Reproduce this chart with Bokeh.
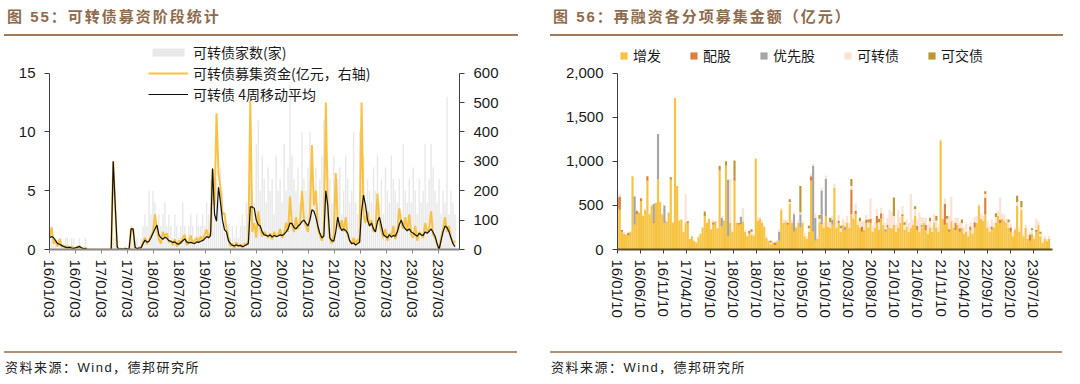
from datetime import datetime
import pandas as pd
from bokeh.plotting import figure
from bokeh.models import (Range1d, LinearAxis, FixedTicker, Legend, LegendItem, Div,
                          NumeralTickFormatter, DatetimeTickFormatter, ColumnDataSource)
from bokeh.layouts import row, column
from bokeh.embed import file_html
from bokeh.resources import INLINE

# ---------------- Left chart data (bi-weekly from 2016-01-03) ----------------
left_start = "2016-01-03"
left_tick_labels = ["16/01/03", "16/07/03", "17/01/03", "17/07/03", "18/01/03", "18/07/03",
                    "19/01/03", "19/07/03", "20/01/03", "20/07/03", "21/01/03", "21/07/03",
                    "22/01/03", "22/07/03", "23/01/03", "23/07/03"]
cb_count = [1, 2, 1, 1, 0, 1, 1, 0, 1, 1,
            0, 1, 1, 0, 0, 1, 0, 0, 1, 0,
            0, 0, 0, 0, 0, 0, 0, 0, 0, 0,
            0, 0, 1, 1, 0, 0, 0, 0, 0, 0,
            0, 2, 1, 0, 1, 0, 1, 2, 3, 2,
            5, 3, 5, 4, 2, 3, 2, 3, 4, 2,
            3, 2, 1, 3, 2, 1, 2, 4, 2, 1,
            2, 3, 2, 1, 3, 2, 2, 3, 2, 4,
            3, 6, 7, 5, 6, 4, 7, 5, 3, 2,
            2, 1, 2, 1, 2, 1, 2, 3, 2, 4,
            3, 6, 5, 4, 9, 11, 5, 8, 6, 4,
            7, 5, 6, 3, 8, 5, 6, 4, 9, 5,
            7, 14, 8, 6, 5, 7, 4, 10, 6, 5,
            7, 10, 6, 5, 7, 4, 6, 8, 11, 5,
            7, 6, 4, 8, 5, 6, 7, 3, 5, 8,
            6, 4, 5, 10, 4, 3, 10, 5, 8, 4,
            6, 5, 4, 7, 5, 8, 4, 6, 3, 7,
            5, 4, 8, 6, 5, 4, 6, 3, 9, 5,
            4, 6, 4, 7, 5, 3, 6, 4, 5, 9,
            4, 6, 9, 7, 5, 4, 6, 3, 5, 4,
            13, 3, 5, 4, 3]
cb_funds = [40, 75, 20, 30, 10, 36, 8, 15, 5, 12,
            0, 10, 5, 0, 8, 12, 4, 0, 6, 0,
            0, 0, 0, 0, 0, 0, 0, 0, 0, 0,
            0, 0, 300, 150, 0, 0, 3, 0, 5, 0,
            2, 72, 70, 5, 0, 8, 3, 25, 40, 18,
            30, 45, 60, 120, 70, 35, 20, 60, 45, 55,
            25, 30, 15, 35, 10, 30, 20, 40, 50, 15,
            25, 48, 20, 30, 40, 25, 45, 30, 50, 68,
            40, 60, 272, 150, 464, 260, 208, 120, 124, 70,
            40, 10, 20, 5, 24, 10, 18, 6, 20, 15,
            30, 508, 60, 90, 40, 130, 70, 45, 60, 50,
            40, 55, 35, 60, 45, 50, 70, 40, 55, 90,
            60, 180, 80, 60, 110, 70, 90, 200, 100, 80,
            60, 120, 355, 150, 200, 70, 50, 30, 60, 500,
            130, 40, 20, 50, 260, 90, 70, 100, 60, 110,
            50, 30, 20, 40, 15, 35, 25, 500, 120, 90,
            130, 80, 100, 60, 70, 190, 90, 60, 40, 70,
            30, 55, 45, 80, 35, 60, 140, 90, 70, 110,
            60, 120, 50, 40, 80, 30, 60, 50, 40, 90,
            60, 70, 130, 50, 40, 20, 0, 40, 70, 110,
            60, 80, 40, 20, 30]
cb_ma4 = [40, 44, 40, 30, 20, 18, 14, 10, 8, 6,
          8, 5, 4, 6, 8, 10, 6, 4, 3, 0,
          0, 0, 0, 0, 0, 0, 0, 0, 0, 0,
          0, 0, 300, 152, 10, 0, 2, 1, 3, 2,
          1, 70, 70, 8, 3, 5, 6, 20, 32, 25,
          28, 40, 55, 70, 83, 50, 40, 35, 42, 38,
          30, 28, 24, 26, 20, 18, 24, 30, 36, 26,
          22, 24, 22, 20, 26, 24, 28, 30, 36, 44,
          40, 48, 276, 120, 96, 212, 160, 100, 68, 60,
          30, 20, 14, 12, 16, 12, 14, 10, 12, 16,
          20, 145, 145, 140, 100, 84, 80, 60, 50, 48,
          45, 50, 42, 48, 44, 46, 50, 48, 52, 60,
          70, 90, 88, 75, 70, 80, 85, 95, 100, 90,
          80, 100, 135, 130, 110, 80, 55, 40, 45, 200,
          150, 40, 30, 28, 60, 110, 80, 65, 70, 65,
          55, 30, 20, 22, 15, 20, 25, 130, 185, 150,
          100, 80, 90, 70, 60, 95, 110, 80, 50, 45,
          40, 50, 42, 48, 45, 60, 85, 100, 80, 70,
          65, 70, 60, 55, 50, 45, 55, 50, 48, 60,
          55, 62, 70, 58, 45, 20, 0, 30, 60, 80,
          75, 60, 40, 20, 10]

# ---------------- Right chart data (bi-weekly from 2016-01-10) ----------------
right_start = "2016-01-10"
right_tick_labels = ["16/01/10", "16/06/10", "16/11/10", "17/04/10", "17/09/10", "18/02/10",
                     "18/07/10", "18/12/10", "19/05/10", "19/10/10", "20/03/10", "20/08/10",
                     "21/01/10", "21/06/10", "21/11/10", "22/04/10", "22/09/10", "23/02/10",
                     "23/07/10"]
zengfa = [470, 450, 200, 180, 170, 160, 200, 830, 280, 400,
          420, 550, 380, 450, 780, 400, 500, 300, 530, 800,
          540, 400, 300, 320, 420, 790, 300, 1720, 720, 330,
          340, 200, 310, 300, 120, 150, 100, 80, 140, 180,
          250, 380, 300, 350, 230, 280, 320, 240, 900, 260,
          330, 950, 150, 300, 200, 780, 300, 280, 290, 320,
          200, 150, 180, 170, 160, 1030, 330, 350, 300, 260,
          130, 100, 60, 80, 50, 90, 100, 450, 300, 320,
          280, 520, 300, 200, 250, 300, 250, 300, 150, 120,
          200, 780, 200, 100, 120, 310, 290, 250, 380, 260,
          250, 280, 700, 250, 300, 200, 280, 220, 300, 250,
          400, 350, 400, 280, 250, 200, 220, 300, 250, 300,
          200, 250, 300, 220, 350, 280, 200, 250, 250, 240,
          280, 200, 250, 300, 380, 220, 260, 200, 250, 280,
          380, 220, 200, 260, 300, 220, 180, 250, 200, 300,
          250, 200, 1230, 350, 280, 300, 200, 320, 250, 220,
          280, 200, 250, 180, 200, 150, 220, 180, 250, 300,
          500, 350, 330, 400, 250, 200, 230, 250, 300, 380,
          300, 350, 330, 300, 250, 200, 150, 220, 500, 200,
          450, 150, 250, 120, 100, 180, 120, 200, 280, 150,
          80, 120, 100, 120]
peigu = [120, 150, 20, 0, 0, 30, 0, 0, 0, 40,
         0, 30, 0, 0, 50, 0, 0, 20, 0, 0,
         0, 0, 0, 0, 0, 0, 0, 0, 0, 0,
         0, 0, 0, 20, 0, 0, 0, 0, 0, 0,
         0, 0, 0, 0, 0, 30, 0, 0, 0, 0,
         0, 0, 0, 0, 0, 50, 0, 20, 0, 0,
         0, 0, 30, 0, 0, 0, 0, 0, 0, 0,
         0, 0, 0, 0, 30, 0, 0, 0, 0, 0,
         20, 0, 0, 0, 0, 0, 0, 0, 0, 0,
         0, 50, 0, 0, 0, 0, 20, 0, 0, 0,
         0, 0, 0, 0, 30, 0, 0, 0, 0, 0,
         280, 0, 40, 0, 0, 60, 0, 40, 0, 50,
         0, 0, 80, 0, 60, 0, 0, 30, 0, 0,
         0, 0, 0, 0, 20, 0, 0, 0, 0, 0,
         0, 50, 0, 0, 0, 60, 0, 0, 0, 0,
         0, 0, 0, 0, 240, 0, 30, 0, 0, 80,
         0, 40, 0, 0, 0, 0, 40, 0, 60, 0,
         0, 0, 0, 190, 0, 0, 30, 0, 0, 0,
         40, 0, 0, 0, 0, 50, 0, 0, 0, 0,
         0, 0, 0, 0, 70, 0, 0, 20, 0, 0,
         0, 0, 0, 0]
youxian = [0, 0, 0, 0, 0, 0, 0, 0, 320, 0,
           0, 0, 0, 0, 0, 0, 0, 200, 0, 510,
           0, 0, 200, 0, 0, 0, 0, 0, 0, 0,
           0, 0, 0, 0, 0, 0, 0, 0, 0, 0,
           0, 0, 0, 0, 0, 0, 0, 0, 0, 100,
           0, 0, 640, 0, 0, 0, 0, 0, 80, 0,
           0, 0, 0, 0, 0, 0, 0, 0, 0, 0,
           0, 0, 0, 0, 0, 0, 100, 0, 0, 0,
           0, 0, 0, 200, 0, 0, 150, 0, 0, 0,
           0, 0, 750, 260, 0, 0, 360, 0, 420, 0,
           0, 60, 0, 0, 0, 0, 0, 40, 0, 0,
           0, 0, 0, 0, 0, 0, 0, 0, 0, 0,
           0, 0, 0, 0, 0, 0, 30, 0, 0, 0,
           0, 0, 0, 0, 0, 0, 0, 0, 0, 0,
           0, 0, 0, 20, 0, 0, 0, 0, 0, 0,
           0, 0, 0, 0, 0, 0, 0, 0, 0, 0,
           0, 0, 0, 0, 0, 0, 0, 0, 0, 0,
           0, 0, 0, 0, 0, 0, 0, 0, 0, 0,
           0, 0, 0, 0, 0, 0, 0, 0, 0, 0,
           0, 0, 0, 0, 0, 0, 0, 0, 0, 0,
           0, 0, 0, 0]
kezhuan = [80, 30, 0, 20, 0, 10, 0, 0, 0, 10,
           0, 0, 10, 0, 0, 20, 0, 0, 0, 0,
           0, 10, 0, 0, 0, 0, 20, 0, 0, 10,
           0, 0, 320, 0, 0, 10, 0, 0, 20, 0,
           10, 0, 20, 0, 0, 30, 0, 10, 0, 20,
           0, 0, 0, 500, 30, 0, 20, 0, 10, 150,
           20, 0, 10, 30, 20, 10, 40, 20, 30, 10,
           20, 10, 20, 10, 0, 20, 30, 20, 40, 20,
           30, 20, 40, 30, 20, 40, 20, 30, 40, 30,
           40, 30, 20, 50, 30, 40, 30, 60, 40, 50,
           60, 40, 50, 80, 60, 40, 70, 60, 80, 50,
           40, 60, 80, 50, 70, 60, 100, 50, 60, 230,
           70, 60, 80, 90, 60, 120, 70, 80, 200, 180,
           100, 80, 200, 70, 90, 60, 80, 100, 380, 60,
           80, 70, 220, 90, 60, 80, 100, 70, 60, 100,
           80, 60, 20, 90, 60, 50, 150, 280, 70, 60,
           80, 60, 50, 70, 90, 60, 50, 80, 60, 80,
           20, 60, 50, 40, 70, 60, 80, 50, 70, 60,
           250, 60, 70, 50, 60, 40, 50, 30, 40, 50,
           30, 40, 30, 50, 30, 40, 30, 130, 40, 30,
           20, 30, 20, 30]
kejiao = [0, 0, 0, 0, 0, 0, 0, 0, 0, 0,
          0, 0, 0, 0, 0, 0, 0, 0, 0, 0,
          0, 0, 0, 0, 0, 30, 0, 0, 0, 0,
          0, 0, 0, 0, 0, 0, 0, 0, 0, 0,
          0, 50, 0, 0, 0, 0, 0, 0, 50, 0,
          0, 50, 0, 0, 0, 180, 0, 0, 0, 0,
          0, 0, 0, 30, 0, 0, 0, 0, 0, 0,
          0, 0, 20, 0, 0, 0, 0, 0, 0, 0,
          0, 30, 0, 0, 0, 0, 300, 0, 0, 0,
          30, 0, 0, 0, 0, 40, 0, 0, 0, 0,
          50, 0, 0, 0, 0, 30, 0, 0, 0, 0,
          80, 0, 0, 0, 40, 0, 0, 0, 30, 0,
          0, 0, 0, 40, 0, 0, 0, 0, 0, 0,
          210, 0, 0, 0, 0, 30, 0, 0, 0, 0,
          30, 0, 0, 0, 0, 0, 0, 40, 0, 0,
          50, 0, 0, 0, 0, 30, 0, 0, 0, 0,
          0, 0, 40, 0, 0, 0, 0, 0, 0, 0,
          0, 0, 0, 30, 0, 0, 0, 0, 40, 0,
          0, 0, 0, 0, 30, 0, 0, 0, 70, 0,
          70, 0, 0, 0, 0, 20, 0, 0, 0, 20,
          0, 0, 0, 0]
series_names = ["增发", "配股", "优先股", "可转债", "可交债"]
series_colors = ["#F6C343", "#E07F3C", "#A5A5A5", "#FBE3D4", "#BC9832"]

DAY = 86400000.0
EPOCH = datetime(1970, 1, 1)

# frame: top at y=40 px, value-axis top (15 / 600 / 2000) at y=72.7, bottom at y=249
FRAME_H = 209.0
AXIS_H = 176.3
EXT = FRAME_H / AXIS_H


def to_ms(s, fmt):
    return (datetime.strptime(s, fmt) - EPOCH).total_seconds() * 1000.0


DATE_FMT = DatetimeTickFormatter(microseconds="%y/%m/%d", milliseconds="%y/%m/%d",
                                 seconds="%y/%m/%d", minsec="%y/%m/%d", minutes="%y/%m/%d",
                                 hourmin="%y/%m/%d", hours="%y/%m/%d", days="%y/%m/%d",
                                 months="%y/%m/%d", years="%y/%m/%d")


def style_axis(ax):
    ax.major_label_text_font = "Liberation Sans"
    ax.major_label_text_font_size = "15px"
    ax.major_label_text_color = "#1a1a1a"
    ax.axis_line_color = "#404040"
    ax.axis_line_width = 1
    ax.major_tick_line_color = "#404040"
    ax.major_tick_out = 5
    ax.major_tick_in = 0
    ax.minor_tick_line_color = None
    ax.major_label_standoff = 9


def base_fig(x0, x1, ytop, mb_left, mb_right):
    p = figure(width=540, height=308, x_axis_type="datetime",
               x_range=Range1d(to_ms(x0, "%Y-%m-%d"), to_ms(x1, "%Y-%m-%d")),
               y_range=Range1d(0, ytop * EXT), output_backend="svg", toolbar_location=None,
               min_border_left=mb_left, min_border_right=mb_right,
               min_border_top=4, min_border_bottom=95)
    p.xgrid.visible = False
    p.ygrid.visible = False
    p.outline_line_color = None
    p.background_fill_color = "white"
    p.border_fill_color = "white"
    return p


# ---------------- Left figure ----------------
ld = pd.date_range(left_start, periods=len(cb_funds), freq="14D")
p1 = base_fig("2016-01-02", "2023-11-30", 15, 49, 81)
p1.extra_y_ranges = {"fund": Range1d(0, 600 * EXT)}
r_cnt = p1.vbar(x=ld, top=cb_count, width=10 * DAY, fill_color="#E8E8E8", line_color=None)
r_fund = p1.line(ld, cb_funds, y_range_name="fund", line_color="#F7C245", line_width=2)
r_ma = p1.line(ld, cb_ma4, y_range_name="fund", line_color="#111111", line_width=1.2)

style_axis(p1.yaxis[0])
p1.yaxis[0].ticker = FixedTicker(ticks=[0, 5, 10, 15])
p1.yaxis[0].bounds = (0, 15)
ax_r = LinearAxis(y_range_name="fund", ticker=FixedTicker(ticks=[0, 100, 200, 300, 400, 500, 600]))
style_axis(ax_r)
ax_r.bounds = (0, 600)
p1.add_layout(ax_r, "right")

xa = p1.xaxis[0]
style_axis(xa)
xa.ticker = FixedTicker(ticks=[to_ms(s, "%y/%m/%d") for s in left_tick_labels])
xa.formatter = DATE_FMT
xa.major_label_orientation = "vertical"
xa.axis_line_color = "#8a8a8a"
xa.axis_line_width = 2
xa.major_tick_line_color = "#8a8a8a"
xa.major_tick_out = 4
xa.major_label_standoff = 6

leg1 = Legend(items=[LegendItem(label="可转债家数(家)", renderers=[r_cnt]),
                     LegendItem(label="可转债募集资金(亿元，右轴)", renderers=[r_fund]),
                     LegendItem(label="可转债 4周移动平均", renderers=[r_ma])],
              location=(99, 145), orientation="vertical")
leg1.glyph_width = 40
leg1.glyph_height = 10
leg1.label_height = 20
leg1.spacing = 1
leg1.padding = 0
leg1.margin = 0
leg1.label_standoff = 5
leg1.border_line_color = None
leg1.background_fill_alpha = 0
leg1.label_text_font = "Noto Sans CJK SC"
leg1.label_text_font_size = "14px"
leg1.label_text_color = "#1a1a1a"
p1.add_layout(leg1)

# ---------------- Right figure ----------------
rd = pd.date_range(right_start, periods=len(zengfa), freq="14D")
src = ColumnDataSource(dict(x=rd, zf=zengfa, pg=peigu, yx=youxian, kz=kezhuan, kj=kejiao))
p2 = base_fig("2016-01-09", "2023-11-14", 2000, 77, 28)
rs = p2.vbar_stack(["zf", "pg", "yx", "kz", "kj"], x="x", width=14.3 * DAY, source=src,
                   fill_color=series_colors, line_color=None)
style_axis(p2.yaxis[0])
p2.yaxis[0].ticker = FixedTicker(ticks=[0, 500, 1000, 1500, 2000])
p2.yaxis[0].formatter = NumeralTickFormatter(format="0,0")
p2.yaxis[0].bounds = (0, 2000)
xb = p2.xaxis[0]
style_axis(xb)
xb.ticker = FixedTicker(ticks=[to_ms(s, "%y/%m/%d") for s in right_tick_labels])
xb.formatter = DATE_FMT
xb.major_label_orientation = "vertical"
xb.axis_line_color = "#5E5020"
xb.axis_line_width = 2
xb.major_tick_line_color = "#404040"
xb.major_tick_out = 4
xb.major_label_standoff = 6

leg2 = Legend(items=[LegendItem(label=n, renderers=[r]) for n, r in zip(series_names, rs)],
              location=(2, 184), orientation="horizontal")
leg2.glyph_width = 9
leg2.glyph_height = 9
leg2.label_height = 16
leg2.spacing = 28
leg2.padding = 0
leg2.margin = 0
leg2.label_standoff = 5
leg2.border_line_color = None
leg2.background_fill_alpha = 0
leg2.label_text_font = "Noto Sans CJK SC"
leg2.label_text_font_size = "14px"
leg2.label_text_color = "#1a1a1a"
p2.add_layout(leg2)


# ---------------- Titles and sources ----------------
def title_div(text, indent, w):
    html = ('<div style="margin-left:%dpx;width:%dpx;height:26px;padding-top:8px;padding-left:3px;'
            'box-sizing:content-box;border-bottom:2px solid #A27A55;'
            'font-family:\'Liberation Sans\',\'Noto Sans CJK SC\';font-weight:700;font-size:15px;'
            'line-height:18px;letter-spacing:2px;color:#8E6B4C;white-space:nowrap;">%s</div>'
            % (indent, w - 3, text))
    return Div(text=html, width=540, height=36, margin=0)


def source_div(text, indent, w):
    html = ('<div style="margin-left:%dpx;width:%dpx;margin-top:7px;border-top:2px solid #B09377;'
            'padding-top:7px;padding-left:1px;font-family:\'Liberation Sans\',\'Noto Sans CJK SC\';'
            'font-size:13px;line-height:16px;letter-spacing:1.5px;color:#222222;white-space:nowrap;">'
            '%s</div>' % (indent, w - 1, text))
    return Div(text=html, width=540, height=40, margin=0)


left = column(title_div("图 55：可转债募资阶段统计", 4, 514), p1,
              source_div("资料来源：Wind，德邦研究所", 4, 514), spacing=0)
right = column(title_div("图 56：再融资各分项募集金额（亿元）", 10, 513), p2,
               source_div("资料来源：Wind，德邦研究所", 10, 513), spacing=0)
layout = row(left, right, spacing=0)

open("out.html", "w").write(file_html(layout, INLINE))
